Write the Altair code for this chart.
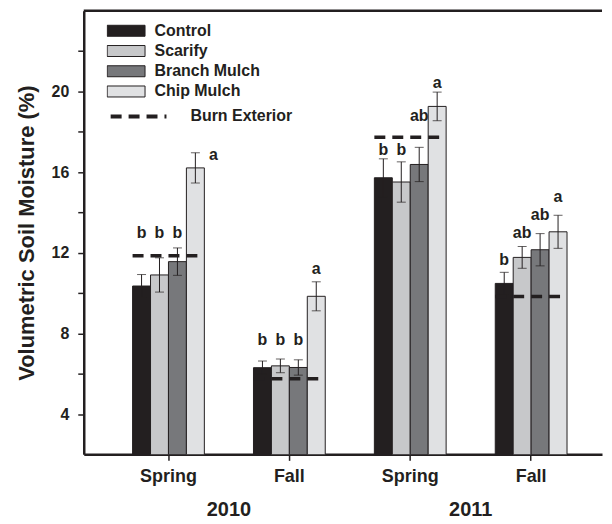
import altair as alt
import pandas as pd

# ---------------- data ----------------
periods = ["Spring 2010", "Fall 2010", "Spring 2011", "Fall 2011"]
treatments = ["Control", "Scarify", "Branch Mulch", "Chip Mulch"]
years = ["2010", "2011"]
year_anchor = ["Spring 2010", "Spring 2011"]

control_mean = [10.35, 6.30, 15.72, 10.48]
control_se = [0.57, 0.33, 0.94, 0.55]
scarify_mean = [10.90, 6.39, 15.51, 11.77]
scarify_se = [0.85, 0.34, 1.00, 0.54]
branch_mean = [11.56, 6.31, 16.38, 12.15]
branch_se = [0.68, 0.38, 0.85, 0.80]
chip_mean = [16.21, 9.84, 19.26, 13.04]
chip_se = [0.75, 0.72, 0.71, 0.82]
burn_exterior = [11.85, 5.75, 17.73, 9.83]

control_letter = ["b", "b", "b", "b"]
scarify_letter = ["b", "b", "b", "ab"]
branch_letter = ["b", "b", "ab", "ab"]
chip_letter = ["a", "a", "a", "a"]
control_letter_y = [12.99, 7.65, 17.09, 11.65]
scarify_letter_y = [12.99, 7.65, 17.09, 12.99]
branch_letter_y = [12.99, 7.65, 18.77, 13.88]
chip_letter_y = [16.84, 11.20, 20.41, 14.77]
chip_letter_side = ["right", "top", "top", "top"]

y_ticks = [4, 6, 8, 10, 12, 14, 16, 18, 20, 22]

# ---------------- tables ----------------
means = [control_mean, scarify_mean, branch_mean, chip_mean]
ses = [control_se, scarify_se, branch_se, chip_se]
letters = [control_letter, scarify_letter, branch_letter, chip_letter]
letter_ys = [control_letter_y, scarify_letter_y, branch_letter_y, chip_letter_y]
sides = [["top"] * 4, ["top"] * 4, ["top"] * 4, chip_letter_side]

rows = []
for ti, t in enumerate(treatments):
    for pi, p in enumerate(periods):
        m = means[ti][pi]
        s = ses[ti][pi]
        rows.append(dict(period=p, treatment=t, mean=m, lo=m - s, hi=m + s,
                         letter=letters[ti][pi], letter_y=letter_ys[ti][pi],
                         side=sides[ti][pi]))
df = pd.DataFrame(rows)
burn_df = pd.DataFrame(dict(period=periods, burn=burn_exterior,
                            series=["Burn Exterior"] * 4))
year_df = pd.DataFrame(dict(anchor=year_anchor, year=years))
top_df = pd.DataFrame(dict(top=[24]))

# ---------------- style ----------------
INK = "#231f20"
FONT = "Liberation Sans"
W, H = 520, 445
colors = ["#231f20", "#c7c8ca", "#77787b", "#e0e1e3"]
P_INNER, P_OUTER, ALIGN = 0.4064, 0.3467, 0.5826
STEP = W / (len(periods) - P_INNER + 2 * P_OUTER)
GAP_MID = STEP * P_INNER / 2  # half the gap between two period groups

x_scale = alt.Scale(domain=periods, paddingInner=P_INNER, paddingOuter=P_OUTER, align=ALIGN)
xo_scale = alt.Scale(domain=treatments, paddingInner=0, paddingOuter=0)
y_scale = alt.Scale(domain=[2, 24], nice=False, zero=False)

x_axis = alt.Axis(labelExpr="split(datum.label, ' ')[0]", labelAngle=0, tickSize=6,
                  tickWidth=1.5, tickColor=INK, domainColor=INK, domainWidth=2.5,
                  labelFont=FONT, labelFontSize=18, labelFontWeight="bold",
                  labelColor=INK, labelPadding=7, title=None, grid=False)
y_axis = alt.Axis(values=y_ticks, labelExpr="datum.value % 4 == 0 ? datum.label : ''",
                  tickSize=6, tickWidth=1.5, tickColor=INK, domainColor=INK,
                  domainWidth=2.5, labelFont=FONT, labelFontSize=16,
                  labelFontWeight="bold", labelColor=INK, labelPadding=9,
                  title="Volumetric Soil Moisture (%)", titleFont=FONT,
                  titleFontSize=22, titleFontWeight="bold", titleColor=INK,
                  titlePadding=13, grid=False)

X = alt.X("period:N", scale=x_scale, axis=x_axis)
XO = alt.XOffset("treatment:N", scale=xo_scale)

bars = alt.Chart(df).mark_bar(stroke=INK, strokeWidth=1, clip=True).encode(
    x=X, xOffset=XO,
    y=alt.Y("mean:Q", scale=y_scale, axis=y_axis),
    fill=alt.Fill("treatment:N", scale=alt.Scale(domain=treatments, range=colors),
                  legend=alt.Legend(orient="none", legendX=23, legendY=11, title=None,
                                    symbolType="M-1,-0.29L1,-0.29L1,0.29L-1,0.29Z",
                                    symbolSize=1444, symbolStrokeColor=INK,
                                    symbolStrokeWidth=1, symbolOpacity=1,
                                    labelFont=FONT, labelFontSize=16,
                                    labelFontWeight="bold", labelColor=INK,
                                    labelOffset=9, clipHeight=18, rowPadding=2.3,
                                    padding=0)),
)

err = alt.Chart(df).mark_rule(color=INK, strokeWidth=1).encode(
    x=X, xOffset=XO, y=alt.Y("lo:Q", scale=y_scale), y2="hi:Q")
cap_lo = alt.Chart(df).mark_tick(color=INK, thickness=1, size=9).encode(
    x=X, xOffset=XO, y=alt.Y("lo:Q", scale=y_scale))
cap_hi = alt.Chart(df).mark_tick(color=INK, thickness=1, size=9).encode(
    x=X, xOffset=XO, y=alt.Y("hi:Q", scale=y_scale))

burn = alt.Chart(burn_df).mark_rule(color=INK, strokeWidth=3.5).encode(
    x=alt.X("period:N", scale=x_scale, bandPosition=0),
    x2=alt.X2("period", bandPosition=1),
    y=alt.Y("burn:Q", scale=y_scale),
    strokeDash=alt.StrokeDash("series:N",
                              scale=alt.Scale(domain=["Burn Exterior"], range=[[11, 7]]),
                              legend=alt.Legend(orient="none", legendX=25, legendY=97,
                                                title=None, symbolType="stroke",
                                                symbolSize=3136, symbolStrokeWidth=4,
                                                symbolStrokeColor=INK, labelFont=FONT,
                                                labelFontSize=16, labelFontWeight="bold",
                                                labelColor=INK, labelOffset=22,
                                                clipHeight=18, padding=0)),
)

txt_kw = dict(font=FONT, fontSize=16, fontWeight="bold", color=INK, baseline="middle")
letters_top = alt.Chart(df).transform_filter("datum.side == 'top'").mark_text(**txt_kw).encode(
    x=X, xOffset=XO, y=alt.Y("letter_y:Q", scale=y_scale), text="letter:N")
letters_right = alt.Chart(df).transform_filter("datum.side == 'right'").mark_text(dx=18, **txt_kw).encode(
    x=X, xOffset=XO, y=alt.Y("letter_y:Q", scale=y_scale), text="letter:N")

top_line = alt.Chart(top_df).mark_rule(color=INK, strokeWidth=2.5).encode(
    y=alt.Y("top:Q", scale=y_scale))

year_text = alt.Chart(year_df).mark_text(font=FONT, fontSize=20, fontWeight="bold",
                                         color=INK, baseline="middle", dx=GAP_MID).encode(
    x=alt.X("anchor:N", scale=x_scale, bandPosition=1),
    y=alt.value(H + 56),
    text="year:N")

chart = alt.layer(bars, err, cap_lo, cap_hi, burn, letters_top, letters_right,
                  top_line, year_text).properties(
    width=W, height=H,
    padding={"left": 7, "top": 0, "right": 0, "bottom": 0},
).configure_view(stroke=None)

chart.save("out.html", embed_options={"renderer": "svg", "actions": False})
